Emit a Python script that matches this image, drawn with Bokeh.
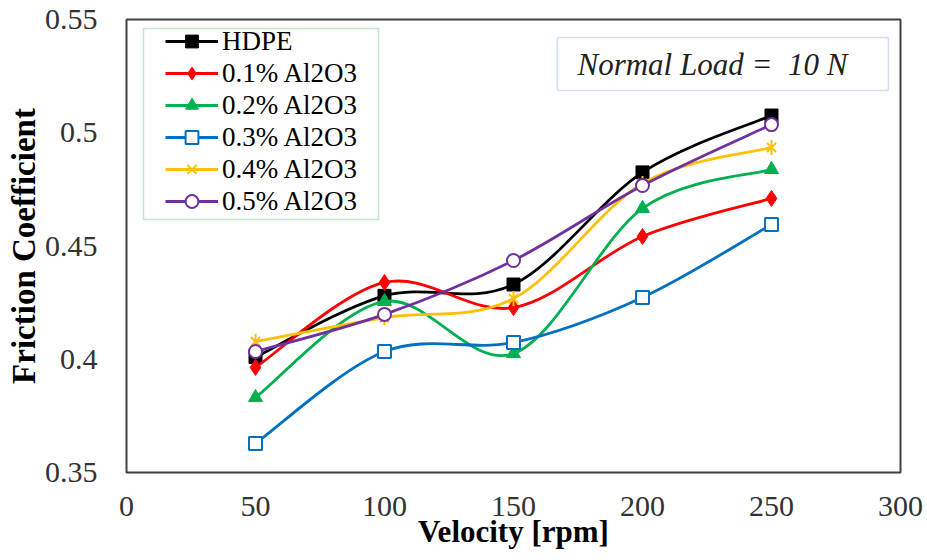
import numpy as np
from bokeh.plotting import figure
from bokeh.models import FixedTicker, Legend, LegendItem, BoxAnnotation, Label, ColumnDataSource
from bokeh.embed import file_html
from bokeh.resources import INLINE

velocity = [50, 100, 150, 200, 250]
hdpe = [0.401, 0.428, 0.433, 0.4825, 0.5076]
al_01 = [0.3964, 0.4339, 0.4228, 0.4542, 0.471]
al_02 = [0.3831, 0.4255, 0.4025, 0.4666, 0.4838]
al_03 = [0.3628, 0.4034, 0.4074, 0.4273, 0.4595]
al_04 = [0.4078, 0.4184, 0.4268, 0.4776, 0.4935]
al_05 = [0.4034, 0.4198, 0.4436, 0.4767, 0.5036]
names = ["HDPE", "0.1% Al2O3", "0.2% Al2O3", "0.3% Al2O3", "0.4% Al2O3", "0.5% Al2O3"]
x_ticks = [0, 50, 100, 150, 200, 250, 300]
y_ticks = [0.35, 0.4, 0.45, 0.5, 0.55]
y_tick_labels = ["0.35", "0.4", "0.45", "0.5", "0.55"]
x_title = "Velocity [rpm]"
y_title = "Friction Coefficient"
note = "Normal Load =\u00a0 10 N"

SERIF = "Liberation Serif"

p = figure(width=927, height=560, output_backend="svg", toolbar_location=None,
           x_range=(0, 300), y_range=(0.35, 0.55),
           min_border_left=126, min_border_right=27, min_border_top=19, min_border_bottom=88)
p.background_fill_color = "white"
p.border_fill_color = "white"
p.outline_line_color = "#404040"
p.outline_line_width = 2
p.grid.grid_line_color = None

for ax in (p.xaxis, p.yaxis):
    ax.axis_line_color = None
    ax.major_tick_line_color = None
    ax.minor_tick_line_color = None
    ax.major_tick_out = 0
    ax.major_tick_in = 0
    ax.major_label_text_font = SERIF
    ax.major_label_text_font_size = "30px"
    ax.major_label_text_color = "#333333"
    ax.axis_label_text_font = SERIF
    ax.axis_label_text_font_style = "bold"
    ax.axis_label_text_color = "black"

p.xaxis.ticker = FixedTicker(ticks=x_ticks)
p.yaxis.ticker = FixedTicker(ticks=y_ticks)
p.yaxis.major_label_overrides = {t: l for t, l in zip(y_ticks, y_tick_labels)}
p.xaxis.major_label_standoff = 24
p.yaxis.major_label_standoff = 29
p.xaxis.axis_label = x_title
p.xaxis.axis_label_text_font_size = "31px"
p.xaxis.axis_label_standoff = -5
p.yaxis.axis_label = y_title
p.yaxis.axis_label_text_font_size = "33px"
p.yaxis.axis_label_standoff = 0


def smooth_segments(xs, ys):
    xs = np.asarray(xs, float)
    ys = np.asarray(ys, float)
    n = len(xs)
    d = dict(x0=[], y0=[], x1=[], y1=[], cx0=[], cy0=[], cx1=[], cy1=[])
    for i in range(n - 1):
        i0 = max(i - 1, 0)
        i3 = min(i + 2, n - 1)
        d["x0"].append(xs[i]); d["y0"].append(ys[i])
        d["x1"].append(xs[i + 1]); d["y1"].append(ys[i + 1])
        d["cx0"].append(xs[i] + (xs[i + 1] - xs[i0]) / 6)
        d["cy0"].append(ys[i] + (ys[i + 1] - ys[i0]) / 6)
        d["cx1"].append(xs[i + 1] - (xs[i3] - xs[i]) / 6)
        d["cy1"].append(ys[i + 1] - (ys[i3] - ys[i]) / 6)
    return ColumnDataSource(d)


series = [hdpe, al_01, al_02, al_03, al_04, al_05]
colors = ["#000000", "#FF0000", "#00B050", "#0070C0", "#FFC000", "#7030A0"]
items = []
for name, vals, col in zip(names, series, colors):
    src = smooth_segments(velocity, vals)
    br = p.bezier(x0="x0", y0="y0", x1="x1", y1="y1", cx0="cx0", cy0="cy0",
                  cx1="cx1", cy1="cy1", source=src, line_color=col, line_width=2.8)
    rs = [br]
    if name == "HDPE":
        rs.append(p.scatter(velocity, vals, marker="square", size=13, fill_color=col, line_color=col))
    elif name.startswith("0.1"):
        rs.append(p.scatter(velocity, vals, marker="diamond", size=16, fill_color=col, line_color=col))
    elif name.startswith("0.2"):
        rs.append(p.scatter(velocity, vals, marker="triangle", size=14, fill_color=col, line_color=col))
    elif name.startswith("0.3"):
        rs.append(p.scatter(velocity, vals, marker="square", size=13, fill_color="white", line_color=col, line_width=2))
    elif name.startswith("0.4"):
        rs.append(p.scatter(velocity, vals, marker="x", size=13, line_color=col, line_width=2))
        rs.append(p.scatter(velocity, vals, marker="dash", angle=np.pi / 2, size=15, line_color=col, line_width=2))
    else:
        rs.append(p.scatter(velocity, vals, marker="circle", size=13, fill_color="white", line_color=col, line_width=2))
    items.append(LegendItem(label=name, renderers=rs))

# legend frame (data coordinates matching the reference box)
p.add_layout(BoxAnnotation(left=6.6, right=97.7, bottom=0.4617, top=0.546,
                           fill_color="white", fill_alpha=1,
                           line_color="#2DB45A", line_width=1.5))

legend = Legend(items=items, location=(39, 255),
                label_text_font=SERIF, label_text_font_size="27px", label_text_color="black",
                glyph_width=53, glyph_height=32, label_height=32, label_standoff=4,
                spacing=0, padding=0, margin=0,
                border_line_color=None, background_fill_alpha=0)
p.add_layout(legend, "center")

box = BoxAnnotation(left=167, right=295.3, bottom=0.5187, top=0.5421,
                    fill_color="white", fill_alpha=1, line_color="#6A93CF", line_width=1.5)
p.add_layout(box)
p.add_layout(Label(x=174.8, y=0.5303, text=note, text_font=SERIF,
                   text_font_style="italic", text_font_size="31px", text_baseline="middle",
                   text_color="#222222"))

open("out.html", "w").write(file_html(p, INLINE))
